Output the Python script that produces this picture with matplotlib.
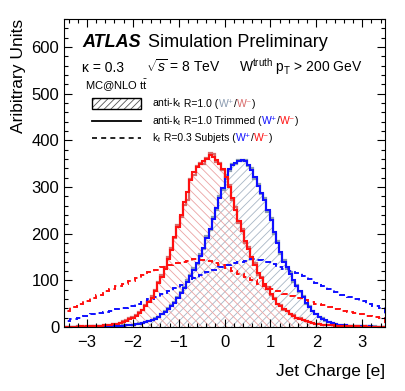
import numpy as np
import matplotlib
matplotlib.use('Agg')
import matplotlib.pyplot as plt
import matplotlib.transforms as mtransforms
from matplotlib.patches import Rectangle
from matplotlib.lines import Line2D
from matplotlib.ticker import MultipleLocator

plt.rcParams['font.family'] = ['Liberation Sans', 'DejaVu Sans']
plt.rcParams['mathtext.fontset'] = 'custom'
plt.rcParams['mathtext.rm'] = 'Liberation Sans'
plt.rcParams['mathtext.it'] = 'Liberation Sans:italic'
plt.rcParams['mathtext.bf'] = 'Liberation Sans:bold'
plt.rcParams['hatch.linewidth'] = 0.6

# 100 bins from -3.5 to 3.5 for the fat-jet charge, 50 bins for subjets
edges = np.linspace(-3.5, 3.5, 101)
sub_edges = np.linspace(-3.5, 3.5, 51)

# anti-kt R=1.0 trimmed
trim_wminus = [0, 0, 0, 0, 0, 1, 0, 1, 1, 1,
               2, 2, 3, 3, 4, 6, 7, 9, 11, 13,
               17, 20, 24, 29, 36, 44, 53, 63, 76, 95,
               108, 125, 145, 165, 192, 215, 240, 268, 290, 315,
               332, 343, 350, 356, 360, 368, 364, 358, 350, 338,
               322, 300, 276, 250, 228, 205, 184, 168, 150, 132,
               116, 104, 92, 82, 70, 60, 50, 44, 38, 33,
               28, 24, 20, 17, 14, 12, 10, 8, 7, 6,
               5, 4, 3, 3, 2, 2, 2, 1, 1, 1,
               1, 1, 0, 1, 0, 0, 0, 0, 0, 0]
trim_wplus = [0, 0, 0, 0, 0, 0, 0, 0, 0, 1,
              0, 1, 1, 1, 1, 1, 2, 2, 2, 3,
              4, 5, 6, 7, 9, 10, 12, 14, 17, 22,
              27, 32, 38, 44, 52, 62, 72, 84, 96, 110,
              122, 136, 152, 170, 190, 210, 232, 254, 276, 298,
              322, 338, 348, 352, 355, 358, 356, 348, 336, 322,
              302, 288, 272, 250, 230, 204, 180, 160, 140, 128,
              114, 100, 88, 76, 64, 52, 42, 34, 27, 22,
              17, 14, 11, 8, 6, 5, 4, 3, 2, 2,
              1, 1, 1, 1, 0, 1, 0, 0, 0, 0]

# anti-kt R=1.0 untrimmed
full_wminus = [0, 0, 0, 0, 1, 0, 1, 1, 1, 1,
               2, 2, 3, 3, 5, 6, 7, 9, 12, 14,
               18, 21, 25, 31, 37, 46, 55, 66, 80, 96,
               112, 128, 150, 170, 190, 218, 236, 262, 272, 318,
               326, 346, 352, 350, 362, 372, 370, 354, 352, 336,
               318, 304, 272, 258, 222, 210, 180, 172, 146, 136,
               112, 108, 88, 86, 68, 62, 48, 46, 36, 34,
               28, 25, 20, 18, 14, 12, 10, 9, 7, 6,
               5, 4, 3, 3, 2, 2, 2, 1, 1, 1,
               1, 1, 1, 0, 1, 0, 0, 0, 0, 0]
full_wplus = [0, 0, 0, 0, 0, 0, 0, 0, 1, 0,
              1, 1, 1, 1, 1, 2, 2, 2, 3, 3,
              4, 5, 6, 8, 9, 11, 12, 15, 18, 22,
              28, 33, 40, 46, 54, 64, 74, 86, 100, 112,
              126, 134, 156, 168, 194, 208, 236, 250, 280, 294,
              326, 334, 350, 350, 358, 356, 358, 346, 340, 318,
              306, 284, 276, 246, 234, 200, 184, 156, 144, 124,
              118, 96, 90, 74, 66, 50, 44, 33, 28, 21,
              18, 13, 11, 8, 7, 5, 4, 3, 2, 2,
              1, 1, 1, 1, 1, 0, 1, 0, 0, 0]

# kt R=0.3 subjets
sub_wminus = [35, 42, 48, 55, 62, 69, 76, 82, 88, 93,
              99, 105, 112, 117, 122, 128, 133, 137, 140, 142,
              145, 144, 141, 137, 133, 127, 120, 114, 108, 100,
              93, 87, 81, 76, 71, 66, 62, 57, 53, 49,
              46, 43, 39, 35, 32, 29, 27, 24, 22, 20]
sub_wplus = [13, 16, 20, 24, 27, 29, 32, 35, 38, 41,
             45, 49, 54, 59, 64, 70, 76, 83, 90, 97,
             104, 111, 117, 122, 128, 132, 136, 139, 142, 145,
             144, 140, 134, 129, 124, 120, 116, 110, 102, 95,
             88, 81, 74, 69, 64, 60, 55, 50, 45, 41]

x_ticks = [-3, -2, -1, 0, 1, 2, 3]
y_ticks = [0, 100, 200, 300, 400, 500, 600]

RED = '#ff1010'
BLUE = '#1010ff'
GREY = '#8a9bb0'
ROSE = '#d86a6a'


def colored_text(ax, x, y, parts, **kw):
    """Draw consecutive text pieces with their own colours on one baseline."""
    fig = ax.figure
    r = fig.canvas.get_renderer()
    trans = ax.transAxes
    for s, c in parts:
        t = ax.text(x, y, s, color=c, transform=trans, va='baseline', **kw)
        w = t.get_window_extent(renderer=r).width
        trans = mtransforms.offset_copy(trans, x=w, units='dots', fig=fig)


fig = plt.figure(figsize=(4.05, 3.91), dpi=100)
ax = fig.add_axes([0.158, 0.164, 0.793, 0.787])

# untrimmed: hatched fills + outlines
ax.stairs(full_wplus, edges, fill=True, facecolor='none', edgecolor='#a8b6c6',
          hatch='////', linewidth=0)
ax.stairs(full_wminus, edges, fill=True, facecolor='none', edgecolor='#eba3a3',
          hatch='\\\\\\\\', linewidth=0)
ax.stairs(full_wplus, edges, color=GREY, linewidth=1.6)
ax.stairs(full_wminus, edges, color=ROSE, linewidth=1.6)

# subjets dashed
ax.stairs(sub_wplus, sub_edges, color=BLUE, linewidth=1.4, linestyle=(0, (3, 2)))
ax.stairs(sub_wminus, sub_edges, color=RED, linewidth=1.4, linestyle=(0, (3, 2)))

# trimmed
ax.stairs(trim_wplus, edges, color=BLUE, linewidth=1.5)
ax.stairs(trim_wminus, edges, color=RED, linewidth=1.5)

ax.set_xlim(-3.5, 3.5)
ax.set_ylim(0, 660)
ax.set_xticks(x_ticks)
ax.set_yticks(y_ticks)
ax.xaxis.set_minor_locator(MultipleLocator(0.2))
ax.yaxis.set_minor_locator(MultipleLocator(20))
ax.tick_params(which='both', direction='in', top=True, right=True, labelsize=12)
ax.tick_params(which='major', length=6, width=0.8)
ax.tick_params(which='minor', length=3, width=0.8)
ax.tick_params(axis='x', pad=6)
for s in ax.spines.values():
    s.set_linewidth(0.8)

ax.text(1.0, -0.146, 'Jet Charge [e]', transform=ax.transAxes, ha='right',
        va='center', fontsize=12.5)
ax.text(-0.142, 1.0, 'Aribitrary Units', transform=ax.transAxes, ha='center',
        va='top', rotation=90, fontsize=12.5)

# labels
ax.text(0.056, 0.909, 'ATLAS', transform=ax.transAxes, fontsize=13,
        fontweight='bold', fontstyle='italic', va='baseline')
ax.text(0.262, 0.909, 'Simulation Preliminary', transform=ax.transAxes,
        fontsize=13, va='baseline')
ax.text(0.056, 0.828, 'κ = 0.3', transform=ax.transAxes, fontsize=10, va='baseline')
ax.text(0.255, 0.828, r'$\sqrt{s}$ = 8 TeV', transform=ax.transAxes, fontsize=10,
        va='baseline')
ax.text(0.545, 0.828, r'W$^{\rm truth}$ p$_{\rm T}$ > 200 GeV', transform=ax.transAxes,
        fontsize=10, va='baseline')
ax.text(0.066, 0.773, r'MC@NLO t$\bar{\rm t}$', transform=ax.transAxes, fontsize=8,
        va='baseline')

# legend
ax.add_patch(Rectangle((0.087, 0.708), 0.153, 0.037, transform=ax.transAxes,
                       facecolor='white', edgecolor='#555555', hatch='/////',
                       linewidth=0))
ax.add_patch(Rectangle((0.087, 0.708), 0.153, 0.037, transform=ax.transAxes,
                       facecolor='none', edgecolor='black', linewidth=1.0))
ax.add_line(Line2D([0.087, 0.240], [0.670, 0.670], transform=ax.transAxes,
                   color='black', linewidth=1.3))
ax.add_line(Line2D([0.087, 0.240], [0.614, 0.614], transform=ax.transAxes,
                   color='black', linewidth=1.2, linestyle=(0, (3, 2.5))))

lx = 0.274
colored_text(ax, lx, 0.716, [(r'anti-k$_{\rm t}$', 'black'), (' R=1.0 (', 'black'),
                             ('W⁺', GREY), ('/', 'black'), ('W⁻', ROSE),
                             (')', 'black')], fontsize=7.5)
colored_text(ax, lx, 0.660, [(r'anti-k$_{\rm t}$', 'black'), (' R=1.0 Trimmed (', 'black'),
                             ('W⁺', BLUE), ('/', 'black'), ('W⁻', RED),
                             (')', 'black')], fontsize=7.5)
colored_text(ax, lx, 0.604, [(r'k$_{\rm t}$', 'black'), (' R=0.3 Subjets (', 'black'),
                             ('W⁺', BLUE), ('/', 'black'), ('W⁻', RED),
                             (')', 'black')], fontsize=7.5)

fig.savefig('out.png', dpi=100)
